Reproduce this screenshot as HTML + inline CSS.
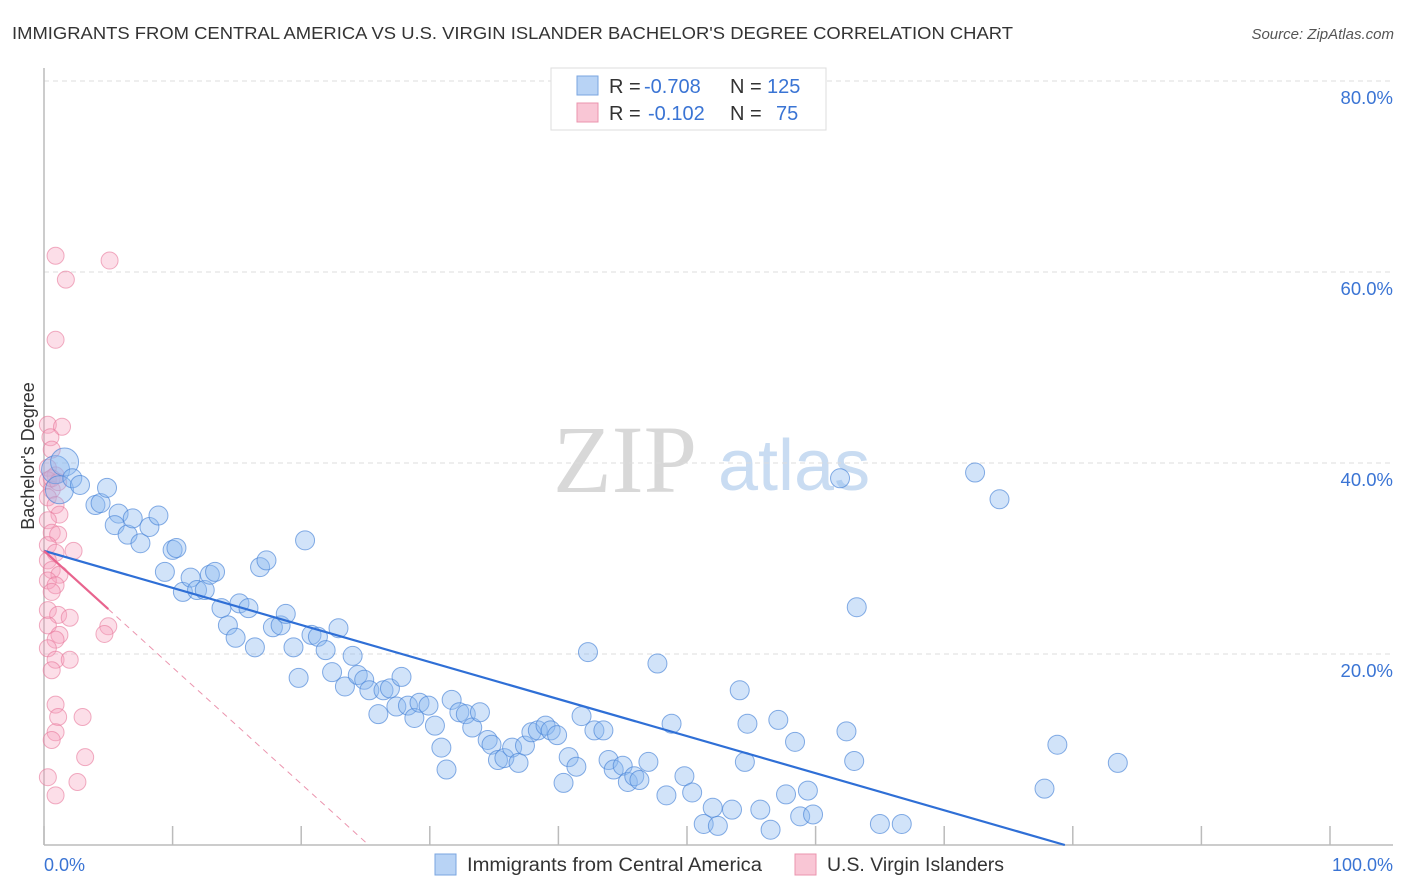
<!DOCTYPE html>
<html><head><meta charset="utf-8"><style>
body{margin:0;background:#fff;width:1406px;height:892px;overflow:hidden;font-family:"Liberation Sans",sans-serif}
</style></head><body>
<svg id="c" width="1406" height="892" xmlns="http://www.w3.org/2000/svg" style="position:absolute;left:0;top:0">
<text x="12" y="39" font-size="17.5" fill="#333" textLength="1001" lengthAdjust="spacingAndGlyphs">IMMIGRANTS FROM CENTRAL AMERICA VS U.S. VIRGIN ISLANDER BACHELOR'S DEGREE CORRELATION CHART</text>
<text x="1394" y="39" font-size="15" fill="#555" font-style="italic" text-anchor="end">Source: ZipAtlas.com</text>
<g>
<text x="553" y="492" font-size="96" font-family="Liberation Serif, serif" fill="#d8d8d8">ZIP</text>
<text x="718" y="490" font-size="72" fill="#c9dcf2">atlas</text>
</g>
<text transform="translate(34,456) rotate(-90)" font-size="18" fill="#333" text-anchor="middle">Bachelor's Degree</text>
<g id="grid"></g><g id="pts"></g><g id="lines"></g>
<g>
<rect x="551" y="68" width="275" height="62" fill="#fff" stroke="#ddd"/>
<rect x="577" y="76" width="21" height="19" fill="#b8d3f5" stroke="#7aa6e0"/>
<rect x="577" y="103" width="21" height="19" fill="#f9c6d5" stroke="#eb94ae"/>
<text x="609" y="93" font-size="20" fill="#333">R = <tspan fill="#3a74d4" x="644">-0.708</tspan><tspan x="730">N = </tspan><tspan fill="#3a74d4" x="767">125</tspan></text>
<text x="609" y="120" font-size="20" fill="#333">R = <tspan fill="#3a74d4" x="648">-0.102</tspan><tspan x="730">N = </tspan><tspan fill="#3a74d4" x="776">75</tspan></text>
</g>
<g>
<rect x="435" y="854" width="21" height="21" fill="#b8d3f5" stroke="#7aa6e0"/>
<text x="467" y="871" font-size="19" fill="#333" textLength="295" lengthAdjust="spacingAndGlyphs">Immigrants from Central America</text>
<rect x="795" y="854" width="21" height="21" fill="#f9c6d5" stroke="#eb94ae"/>
<text x="827" y="871" font-size="19" fill="#333" textLength="177" lengthAdjust="spacingAndGlyphs">U.S. Virgin Islanders</text>
</g>
<text x="44" y="871" font-size="18" fill="#3a74d4">0.0%</text>
<text x="1393" y="871" font-size="18" fill="#3a74d4" text-anchor="end">100.0%</text>
</svg>
<script>
const yTicks=[20,40,60,80];
const yTickLabels=["20.0%","40.0%","60.0%","80.0%"];
const xTicks=[0,10,20,30,40,50,60,70,80,90,100];
const blueX=[0.9,1.6,1.2,2.2,2.8,4.0,4.4,4.9,5.8,5.5,6.5,6.9,7.5,8.2,8.9,9.4,10.0,10.3,10.8,11.4,11.9,12.5,12.9,13.3,13.8,14.3,14.9,15.2,15.9,16.4,16.8,17.3,17.8,18.4,18.8,19.4,19.8,20.3,20.8,21.3,21.9,22.4,22.9,23.4,24.0,24.4,24.9,25.3,26.0,26.4,26.9,27.4,27.8,28.3,28.8,29.2,29.9,30.4,30.9,31.3,31.7,32.3,32.8,33.3,33.9,34.5,34.8,35.3,35.8,36.4,36.9,37.4,37.9,38.4,39.0,39.4,39.9,40.4,40.8,41.4,41.8,42.3,42.8,43.5,43.9,44.3,45.0,45.4,45.9,46.3,47.0,47.7,48.4,48.8,49.8,50.4,51.3,52.0,52.4,53.5,54.1,54.5,54.7,55.7,56.5,57.1,57.7,58.4,58.8,59.4,59.8,61.9,62.4,63.0,63.2,65.0,66.7,72.4,74.3,77.8,78.8,83.5];
const blueY=[39.3,40.1,37.2,38.4,37.7,35.6,35.8,37.4,34.7,33.5,32.5,34.2,31.6,33.3,34.5,28.6,30.9,31.1,26.5,28.0,26.7,26.7,28.3,28.6,24.8,23.0,21.7,25.3,24.8,20.7,29.1,29.8,22.8,23.0,24.2,20.7,17.5,31.9,22.0,21.8,20.4,18.1,22.7,16.6,19.8,17.8,17.3,16.2,13.7,16.2,16.4,14.5,17.6,14.6,13.3,14.9,14.6,12.5,10.2,7.9,15.2,13.9,13.7,12.3,13.9,11.0,10.5,8.9,9.1,10.2,8.6,10.4,11.8,12.0,12.5,12.0,11.5,6.5,9.2,8.2,13.5,20.2,12.0,12.0,8.9,7.9,8.3,6.6,7.2,6.8,8.7,19.0,5.2,12.7,7.2,5.5,2.2,3.9,2.0,3.7,16.2,8.7,12.7,3.7,1.6,13.1,5.3,10.8,3.0,5.7,3.2,38.4,11.9,8.8,24.9,2.2,2.2,39.0,36.2,5.9,10.5,8.6];
const pinkX=[0.9,5.1,1.7,0.9,0.3,1.4,0.5,0.6,0.3,0.9,0.3,0.6,0.3,0.9,1.2,0.3,0.6,1.1,0.3,2.3,0.9,0.3,0.6,1.2,0.3,0.9,0.6,0.3,1.1,2.0,0.3,1.2,0.9,0.3,5.0,4.7,0.9,2.0,0.6,0.9,1.1,3.0,0.9,0.6,3.2,0.3,2.6,0.9,0.6,1.1];
const pinkY=[61.7,61.2,59.2,52.9,44.0,43.8,42.7,41.4,39.5,38.7,38.2,37.2,36.4,35.6,34.6,34.0,32.7,32.5,31.4,30.8,30.6,29.8,28.8,28.3,27.7,27.2,26.5,24.6,24.1,23.8,23.0,22.0,21.5,20.6,22.9,22.1,19.4,19.4,18.3,14.7,13.4,13.4,11.8,11.0,9.2,7.1,6.6,5.2,38.4,38.0];
const blueFit=[30.8,-0.388];
const pinkFit=[30.8,-1.22];
const X0=44,X1=1330,Y0=845,PY=9.55;
const sx=v=>X0+(X1-X0)*v/100, sy=v=>Y0-v*PY;
const NS="http://www.w3.org/2000/svg";
function mk(t,a,p){const e=document.createElementNS(NS,t);for(const k in a)e.setAttribute(k,a[k]);p.appendChild(e);return e;}
const grid=document.getElementById('grid');
yTicks.forEach((t,i)=>{
 const l=mk('line',{x1:44,x2:1393,y1:sy(t),y2:sy(t),stroke:'#ddd','stroke-dasharray':'5,4'},grid);
 
 
 const tx=mk('text',{x:1393,y:sy(t)+23,'font-size':18.5,fill:'#3a74d4','text-anchor':'end'},grid);
 tx.textContent=yTickLabels[i];
 
 
});
mk('line',{x1:44,x2:44,y1:68,y2:845,stroke:'#bbb','stroke-width':1.5},grid);
mk('line',{x1:44,x2:1393,y1:845,y2:845,stroke:'#bbb','stroke-width':1.5},grid);
xTicks.forEach(t=>{const l=mk('line',{x1:sx(t),x2:sx(t),y1:826,y2:845,stroke:'#bbb','stroke-width':1.5},grid);
 
 });
const pts=document.getElementById('pts');
pinkX.forEach((x,i)=>{const c=mk('circle',{cx:sx(x),cy:sy(pinkY[i]),r:8.5,fill:'rgba(246,160,188,0.35)',stroke:'rgba(232,120,155,0.6)'},pts);
 
 });
blueX.forEach((x,i)=>{const c=mk('circle',{cx:sx(x),cy:sy(blueY[i]),r:i<3?14:9.5,fill:'rgba(140,185,240,0.4)',stroke:'rgba(70,130,215,0.65)'},pts);
 
 });
const lines=document.getElementById('lines');
const bEnd=-blueFit[0]/blueFit[1];
const bl=mk('line',{x1:sx(0),y1:sy(blueFit[0]),x2:sx(bEnd),y2:sy(0),stroke:'#2f6fd6','stroke-width':2.2},lines);


const pEnd=-pinkFit[0]/pinkFit[1];
const pd=mk('line',{x1:sx(5),y1:sy(pinkFit[0]+pinkFit[1]*5),x2:sx(pEnd),y2:sy(0),stroke:'#eb94ae','stroke-width':1,'stroke-dasharray':'6,5'},lines);


const pl=mk('line',{x1:sx(0),y1:sy(pinkFit[0]),x2:sx(5),y2:sy(pinkFit[0]+pinkFit[1]*5),stroke:'#e8648e','stroke-width':2.2},lines);


</script>
</body></html>
